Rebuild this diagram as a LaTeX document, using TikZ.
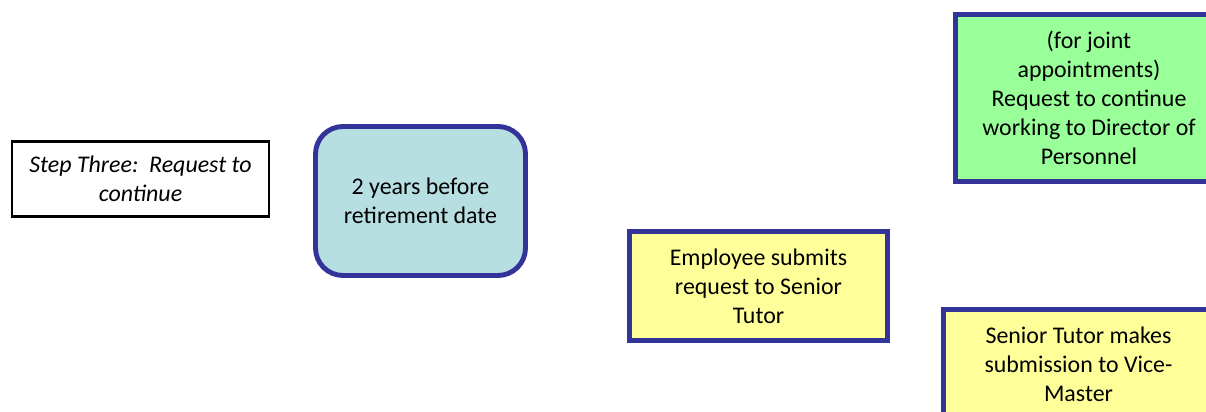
\documentclass[tikz,border=0pt]{standalone}
\usepackage{fontspec}
\setmainfont{Carlito}
\usetikzlibrary{positioning}

\definecolor{boxblue}{RGB}{51,51,153}
\definecolor{paleblue}{RGB}{183,222,225}
\definecolor{paleyellow}{RGB}{255,255,153}
\definecolor{palegreen}{RGB}{153,255,153}

\begin{document}
\begin{tikzpicture}[
  every node/.style={align=center, inner sep=0pt, font=\fontsize{13.6}{16.4}\selectfont},
  stepbox/.style={draw=black, line width=1.7pt, fill=white, minimum width=5.14cm, minimum height=1.5cm},
  datebox/.style={draw=boxblue, line width=2.8pt, fill=paleblue, rounded corners=0.55cm, minimum width=4.2cm, minimum height=2.98cm},
  actionbox/.style={draw=boxblue, line width=2.8pt, fill=paleyellow, minimum width=5.16cm, minimum height=2.18cm},
  jointbox/.style={draw=boxblue, line width=2.8pt, fill=palegreen, minimum width=5.34cm, minimum height=3.34cm}
]
\useasboundingbox (0,0) rectangle (24.12,8.24);
\clip (0,0) rectangle (24.12,8.24);

% step title and timing
\node[stepbox] (step) at (2.81,4.66) {\itshape Step Three:\ \ Request to\\ \itshape continue};
\node[datebox] (when) at (8.41,4.22) {2 years before\\ retirement date};

% actions
\node[actionbox] (submit) at (15.17,2.52) {Employee submits\\ request to Senior\\ Tutor};
\node[jointbox] (joint) at (21.78,6.28) {(for joint\\ appointments)\\ Request to continue\\ working to Director of\\ Personnel};
\node[actionbox, minimum width=5.4cm] (tutor) at (21.57,0.96) {Senior Tutor makes\\ submission to Vice-\\ Master};
\end{tikzpicture}
\end{document}
